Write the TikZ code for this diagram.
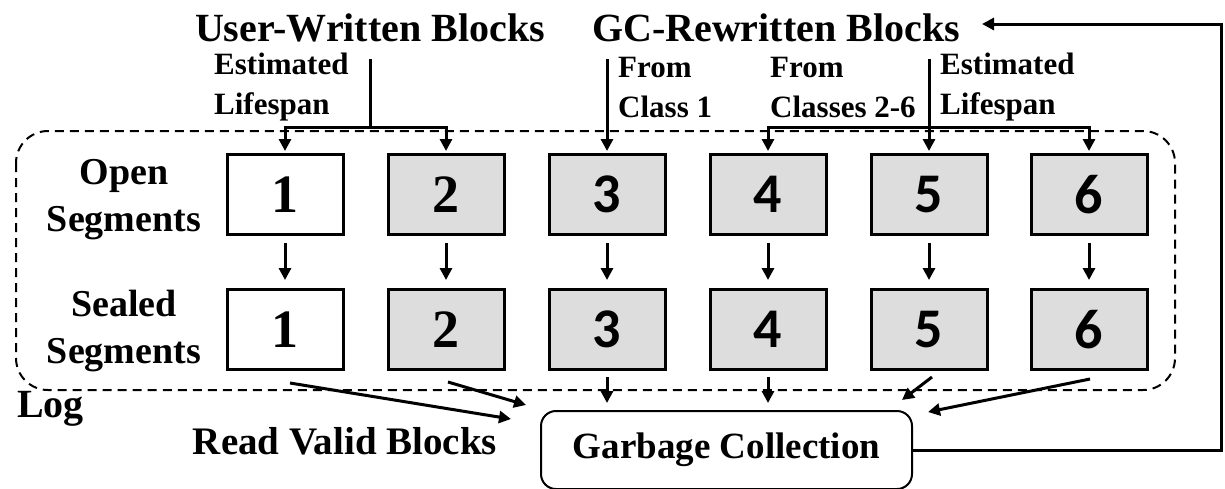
\documentclass[tikz,border=0pt]{standalone}
\usepackage{fontspec}
\setmainfont{Liberation Serif}
\newfontfamily\numsans{Carlito}
\usetikzlibrary{arrows.meta,calc}
\tikzset{
  seg/.style={draw, line width=3pt, minimum width=116pt, minimum height=80pt,
    inner sep=0pt, font=\bfseries\fontsize{54}{54}\selectfont},
  segw/.style={seg, fill=white},
  segg/.style={seg, fill={rgb,255:red,221;green,221;blue,221}},
  sans/.style={font=\numsans\bfseries\fontsize{56}{56}\selectfont},
  arr/.style={line width=3pt, -{Triangle[length=12pt,width=12pt]}},
  wire/.style={line width=3pt},
  big/.style={font=\bfseries\fontsize{40}{40}\selectfont, inner sep=0pt},
  side/.style={font=\bfseries\fontsize{38}{47}\selectfont, align=center, inner sep=0pt},
  small/.style={font=\bfseries\fontsize{31}{40}\selectfont, align=left, inner sep=0pt, anchor=west},
}
\begin{document}
\begin{tikzpicture}[x=1pt,y=-1pt]
\useasboundingbox (0,0) rectangle (1225,488);

% log region
\draw[line width=2pt, dash pattern=on 9pt off 6pt, rounded corners=32pt]
  (16,131) rectangle (1175,390);

% headers
\node[big] (uwb) at (370,28) {User-Written Blocks};
\node[big] (gcw) at (776,28) {GC-Rewritten Blocks};

% sub-labels
\node[small] (est1) at (214,87) {Estimated\\Lifespan};
\node[small] (fc1) at (618,87) {From\\Class 1};
\node[small] (fc26) at (770,87) {From\\Classes 2-6};
\node[small] (est2) at (940,87) {Estimated\\Lifespan};

% row labels
\node[side] (lopen) at (124,200) {Open\\Segments};
\node[side] (lseal) at (124,331) {Sealed\\Segments};
\node[font=\bfseries\fontsize{40}{40}\selectfont, inner sep=0pt, anchor=west] (log) at (17,409) {Log};

% open segments
\node[segw] (o1) at (285,194.5) {1};
\node[segg] (o2) at (446,194.5) {2};
\node[segg,sans] (o3) at (607,194.5) {3};
\node[segg,sans] (o4) at (768,194.5) {4};
\node[segg,sans] (o5) at (929,194.5) {5};
\node[segg,sans] (o6) at (1089,194.5) {6};

% sealed segments
\node[segw] (s1) at (285,329.5) {1};
\node[segg] (s2) at (446,329.5) {2};
\node[segg,sans] (s3) at (607,329.5) {3};
\node[segg,sans] (s4) at (768,329.5) {4};
\node[segg,sans] (s5) at (929,329.5) {5};
\node[segg,sans] (s6) at (1089,329.5) {6};

% open -> sealed
\foreach \i in {1,...,6}
  \draw[arr, shorten <=7pt, shorten >=8pt] (o\i.south) -- (s\i.north);

% garbage collection
\node[draw, line width=2pt, rounded corners=15pt, minimum width=371pt, minimum height=78pt,
  font=\bfseries\fontsize{37}{37}\selectfont] (gc) at (726.5,450) {Garbage Collection};
\node[big, font=\bfseries\fontsize{39}{39}\selectfont] (rvb) at (345,441) {Read Valid Blocks};

% user-written blocks into classes 1 and 2
\coordinate (uwtop) at (370,59);
\coordinate (uwj) at (370,127);
\draw[wire] (uwtop) -- (uwj);
\draw[arr, shorten >=2pt] (uwj) -| (o1.north);
\draw[arr, shorten >=2pt] (uwj) -| (o2.north);

% gc-rewritten blocks from class 1
\coordinate (c1top) at (607,59);
\draw[arr, shorten >=2pt] (c1top) -- (o3.north);

% gc-rewritten blocks from classes 2-6
\coordinate (c26top) at (929,59);
\coordinate (c26j) at (929,127);
\draw[wire] (c26top) -- (c26j);
\draw[arr, shorten >=2pt] (c26j) -- (o5.north);
\draw[arr, shorten >=2pt] (c26j) -| (o4.north);
\draw[arr, shorten >=2pt] (c26j) -| (o6.north);

% sealed segments to garbage collection
\coordinate (t1) at (511,419);
\coordinate (t2) at (526,405);
\coordinate (t5) at (902,400);
\coordinate (t6) at (928,412);
\draw[arr] ($(s1.south)+(5,12)$) -- (t1);
\draw[arr] ($(s2.south)+(2,11)$) -- (t2);
\draw[arr, shorten <=6pt, shorten >=7pt] (s3.south) -- (s3.south |- gc.north);
\draw[arr, shorten <=6pt, shorten >=7pt] (s4.south) -- (s4.south |- gc.north);
\draw[arr] ($(s5.south)+(3,6)$) -- (t5);
\draw[arr] ($(s6.south)+(1,8)$) -- (t6);

% feedback loop
\coordinate (lb) at (1221,450);
\coordinate (lt) at (1221,24);
\coordinate (gctip) at (982,24);
\draw[line width=3pt, -{Triangle[length=12pt,width=12pt]}] (gc.east) -- (lb) -- (lt) -- (gctip);
\end{tikzpicture}
\end{document}
